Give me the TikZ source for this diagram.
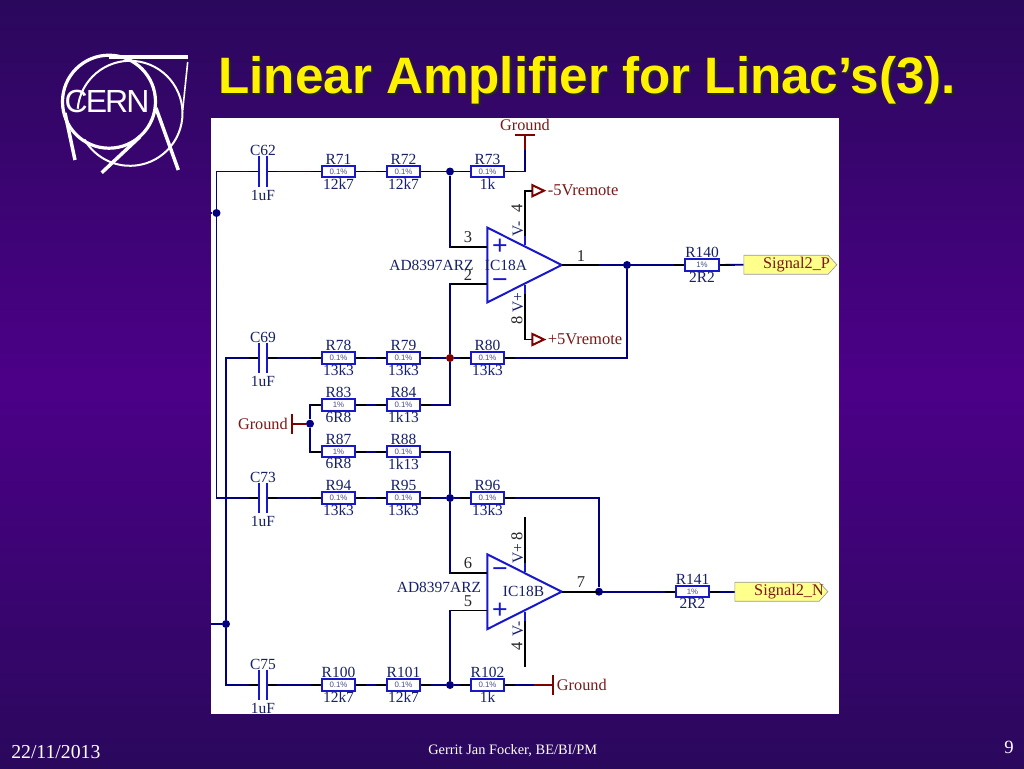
\documentclass[tikz,border=0pt]{standalone}
\usepackage{fontspec}
\setmainfont{Liberation Serif}
\setsansfont{Liberation Sans}
\newfontfamily\cernfont[LetterSpace=-6]{Liberation Sans}
\usetikzlibrary{shapes.geometric,shapes.symbols}
\pgfdeclarelayer{back}
\pgfsetlayers{back,main}
\definecolor{slidedark}{RGB}{42,8,92}
\definecolor{slidemid}{RGB}{76,0,136}
\definecolor{wirenavy}{RGB}{0,0,128}
\definecolor{partblue}{RGB}{24,24,200}
\definecolor{inknavy}{RGB}{22,32,104}
\definecolor{inkred}{RGB}{122,24,24}
\definecolor{gndred}{RGB}{128,0,0}
\definecolor{portyellow}{RGB}{255,255,140}

\begin{document}
\begin{tikzpicture}[x=0.75pt,y=-0.75pt]
\tikzstyle{every node}+=[inner sep=0pt]
\tikzstyle{wire}=[draw=wirenavy,line width=1.4pt]
\tikzstyle{pinline}=[draw=black,line width=1.4pt]
\tikzstyle{plate}=[draw=partblue,line width=1.8pt]
\tikzstyle{gndline}=[draw=gndred,line width=1.4pt]
\tikzstyle{rtext}=[font=\fontsize{11.6}{12}\selectfont,text=inknavy]
\tikzstyle{pintext}=[font=\fontsize{12.4}{12}\selectfont,text=black!85]
\tikzstyle{gndtext}=[font=\fontsize{12.2}{12}\selectfont,text=inkred]
\tikzstyle{porttext}=[font=\fontsize{12.4}{14}\selectfont,text=inkred]
\tikzstyle{icsign}=[font=\fontsize{20}{20}\sffamily\selectfont,text=partblue]
\tikzstyle{res}=[draw=partblue,line width=1.5pt,fill=white,minimum width=25pt,minimum height=8.6pt,
  font=\fontsize{5.9}{6}\sffamily\selectfont,text=inknavy!80,label distance=2.6pt,
  append after command={(\tikzlastnode.west) edge[pinline] ++(-10,0) (\tikzlastnode.east) edge[pinline] ++(10,0)}]
\tikzstyle{capa}=[minimum width=5.7pt,minimum height=23.2pt,outer sep=0pt,label distance=2.5pt,
  append after command={(\tikzlastnode.west) edge[pinline] ++(-10,0) (\tikzlastnode.east) edge[pinline] ++(10,0)
  (\tikzlastnode.north west) edge[plate] (\tikzlastnode.south west)
  (\tikzlastnode.north east) edge[plate] (\tikzlastnode.south east)}]
\tikzstyle{jdot}=[circle,fill=wirenavy,minimum size=6pt]
\tikzstyle{opamp}=[isosceles triangle,isosceles triangle stretches,draw=partblue,line width=1.5pt,outer sep=0pt,
  minimum width=56pt,minimum height=55.7pt,anchor=apex]
\tikzstyle{vport}=[isosceles triangle,isosceles triangle stretches,draw=gndred,line width=1.5pt,outer sep=0pt,
  minimum width=8.4pt,minimum height=8.8pt,anchor=apex]
\tikzstyle{sigport}=[signal,signal to=east,draw=black!40,line width=0.5pt,fill=portyellow,
  minimum width=69.7pt,minimum height=14.3pt,signal pointer angle=95]
\tikzstyle{sigtext}=[font=\fontsize{12.2}{12}\selectfont,text=inkred]

\begin{pgfonlayer}{back}
\shade [top color=slidedark,bottom color=slidedark,middle color=slidemid] (0,0) rectangle (1024,768);
\fill [white] (211,118) rectangle (838.5,714);
\end{pgfonlayer}
\useasboundingbox (0,0) rectangle (1024,768);

\draw [white,line width=2.4pt] (109,101.7) circle (46.5);
\draw [white,line width=1.5pt] (130,113.3) ++(-175:52.5) arc (-175:150:52.5);
\draw [white,line width=2.8pt] (109,56.7) -- (187.7,56.7);
\draw [white,line width=1.2pt] (187.7,62) -- (182.7,110);
\draw [white,line width=2.6pt] (65,113) -- (75,160);
\draw [white,line width=2.6pt] (156,108) -- (178.3,170);
\draw [white,line width=2.6pt] (101.7,172.7) -- (140,136.7);
\node [text=white,font=\fontsize{24}{24}\cernfont] (cern) at (107,101.7) {CERN};

\node [anchor=base west,text=black!85,font=\fontsize{38.4}{38}\bfseries\sffamily\selectfont] (titleback) at (220,95) {Linear Amplifier for Linac’s(3).};
\node [anchor=base west,text=yellow,font=\fontsize{38.4}{38}\bfseries\sffamily\selectfont] (title) at (218,93) {Linear Amplifier for Linac’s(3).};
\node [anchor=west,text=white,font=\fontsize{14.8}{15}\selectfont] (date) at (11,752) {22/11/2013};
\node [anchor=west,text=white,font=\fontsize{10.8}{11}\selectfont] (author) at (428,751) {Gerrit Jan Focker, BE/BI/PM};
\node [text=white,font=\fontsize{14}{14}\selectfont] (page) at (1009,747) {9};

\node [capa,label={[rtext]above:C62},label={[rtext,yshift=-2pt]below:1uF}] (C62) at (263,171.5) {};
\node [capa,label={[rtext]above:C69},label={[rtext,yshift=-2pt]below:1uF}] (C69) at (263,358) {};
\node [capa,label={[rtext]above:C73},label={[rtext,yshift=-2pt]below:1uF}] (C73) at (263,498) {};
\node [capa,label={[rtext]above:C75},label={[rtext,yshift=-2pt]below:1uF}] (C75) at (263,685) {};

\node [res,label={[rtext]above:R71},label={[rtext]below:12k7}] (R71) at (338.5,171.5) {0.1\%};
\node [res,label={[rtext]above:R72},label={[rtext]below:12k7}] (R72) at (403.5,171.5) {0.1\%};
\node [res,label={[rtext]above:R73},label={[rtext]below:1k}] (R73) at (487.5,171.5) {0.1\%};
\node [res,label={[rtext]above:R78},label={[rtext]below:13k3}] (R78) at (338.5,358) {0.1\%};
\node [res,label={[rtext]above:R79},label={[rtext]below:13k3}] (R79) at (403.5,358) {0.1\%};
\node [res,label={[rtext]above:R80},label={[rtext]below:13k3}] (R80) at (487.5,358) {0.1\%};
\node [res,label={[rtext]above:R83},label={[rtext]below:6R8}] (R83) at (338.5,405) {1\%};
\node [res,label={[rtext]above:R84},label={[rtext]below:1k13}] (R84) at (403.5,405) {0.1\%};
\node [res,label={[rtext]above:R87},label={[rtext]below:6R8}] (R87) at (338.5,451.7) {1\%};
\node [res,label={[rtext]above:R88},label={[rtext]below:1k13}] (R88) at (403.5,451.7) {0.1\%};
\node [res,label={[rtext]above:R94},label={[rtext]below:13k3}] (R94) at (338.5,498) {0.1\%};
\node [res,label={[rtext]above:R95},label={[rtext]below:13k3}] (R95) at (403.5,498) {0.1\%};
\node [res,label={[rtext]above:R96},label={[rtext]below:13k3}] (R96) at (487.5,498) {0.1\%};
\node [res,label={[rtext]above:R100},label={[rtext]below:12k7}] (R100) at (338.5,685) {0.1\%};
\node [res,label={[rtext]above:R101},label={[rtext]below:12k7}] (R101) at (403.5,685) {0.1\%};
\node [res,label={[rtext]above:R102},label={[rtext]below:1k}] (R102) at (487.5,685) {0.1\%};
\node [res,label={[rtext]above:R140},label={[rtext]below:2R2}] (R140) at (702,265) {1\%};
\node [res,label={[rtext]above:R141},label={[rtext]below:2R2}] (R141) at (692.5,591.7) {1\%};

\node [jdot] (Jleft) at (216.5,213) {};
\node [jdot] (Jright) at (226,624) {};
\node [jdot] (Jplus) at (450,171.5) {};
\node [jdot,fill=gndred] (Jminus) at (450,358) {};
\node [jdot] (Jgnd) at (310,423.7) {};
\node [jdot] (Jfeed) at (450,498) {};
\node [jdot] (Jlow) at (450,685) {};
\node [jdot] (Jouta) at (627,265) {};
\node [jdot] (Joutb) at (599,591.7) {};

\node [opamp] (ICA) at (561.7,265) {};
\node [opamp] (ICB) at (561.7,591.7) {};
\node [icsign] (ICAp) at (500,247) {+};
\node [icsign] (ICAm) at (500,283.5) {−};
\node [icsign] (ICBm) at (500,573) {−};
\node [icsign] (ICBp) at (500,610.7) {+};

\coordinate (stubl) at (211,213);
\coordinate (stubr) at (211,624);
\coordinate (A3) at (487,246.7);
\coordinate (A2) at (487,284);
\coordinate (B6) at (487,572.7);
\coordinate (B5) at (487,610.5);
\coordinate (Gtop) at (525,135);
\coordinate (Gleft) at (291.7,423.7);
\coordinate (Gbot) at (552.7,685);

\node [sigport] (S2P) at (786,264.7) {};
\node [sigport] (S2N) at (777,591.7) {};
\node [sigtext] (S2Ptext) at (796.5,264.7) {Signal2\_P};
\node [sigtext] (S2Ntext) at (789,591.7) {Signal2\_N};

\node [gndtext] (Gtoptext) at (525,125) {Ground};
\node [gndtext,anchor=east] (Glefttext) at (288,424) {Ground};
\node [gndtext,anchor=west] (Gbottext) at (556.7,685) {Ground};

\node [vport] (Vneg) at (544,190.7) {};
\node [vport] (Vpos) at (544,339.5) {};
\node [porttext,anchor=west] (Vnegtext) at (547.5,190.7) {-5Vremote};
\node [porttext,anchor=west] (Vpostext) at (547.5,339.5) {+5Vremote};

\node [rtext] (ICApart) at (431.5,265) {AD8397ARZ};
\node [rtext] (ICAname) at (506,265) {IC18A};
\node [rtext] (ICBpart) at (439,587) {AD8397ARZ};
\node [rtext] (ICBname) at (523.5,591.7) {IC18B};

\node [pintext] (p3) at (468,236.7) {3};
\node [pintext] (p2) at (468,275) {2};
\node [pintext] (p1) at (581,256) {1};
\node [pintext,rotate=90] (p4a) at (517,208) {4};
\node [pintext,rotate=90] (p8a) at (517,320) {8};
\node [rtext,rotate=90] (vma) at (518,229) {V-};
\node [rtext,rotate=90] (vpa) at (518,302.7) {V+};
\node [pintext] (p6) at (468,563) {6};
\node [pintext] (p5) at (468,600.7) {5};
\node [pintext] (p7) at (581,581.7) {7};
\node [pintext,rotate=90] (p8b) at (517,536) {8};
\node [pintext,rotate=90] (p4b) at (517,646.7) {4};
\node [rtext,rotate=90] (vpb) at (518,554) {V+};
\node [rtext,rotate=90] (vmb) at (518,629) {V-};

\begin{pgfonlayer}{back}
\draw [wire] (C62.west) -| (Jleft);
\draw [wire] (Jleft) |- (C73.west);
\draw [wire] (stubl) -- (Jleft);
\draw [wire] (C69.west) -| (Jright);
\draw [wire] (Jright) |- (C75.west);
\draw [wire] (stubr) -- (Jright);
\draw [wire] (C62.east) -- (R71.west);
\draw [wire] (R71.east) -- (R72.west);
\draw [wire] (R72.east) -- (Jplus);
\draw [wire] (Jplus) -- (R73.west);
\draw [wire] (R73.east) -| (Gtop);
\draw [wire] (Jplus) |- (A3);
\draw [wire] (Jminus) |- (A2);
\draw [wire] (C69.east) -- (R78.west);
\draw [wire] (R78.east) -- (R79.west);
\draw [wire] (R79.east) -- (Jminus);
\draw [wire] (Jminus) -- (R80.west);
\draw [wire] (R80.east) -| (Jouta);
\draw [wire] (Jminus) |- (R84.east);
\draw [wire] (R83.east) -- (R84.west);
\draw [wire] (Jgnd) |- (R83.west);
\draw [wire] (Jgnd) |- (R87.west);
\draw [wire] (R87.east) -- (R88.west);
\draw [wire] (R88.east) -| (Jfeed);
\draw [wire] (C73.east) -- (R94.west);
\draw [wire] (R94.east) -- (R95.west);
\draw [wire] (R95.east) -- (Jfeed);
\draw [wire] (Jfeed) -- (R96.west);
\draw [wire] (R96.east) -| (Joutb);
\draw [wire] (Jfeed) |- (B6);
\draw [wire] (Jlow) |- (B5);
\draw [wire] (C75.east) -- (R100.west);
\draw [wire] (R100.east) -- (R101.west);
\draw [wire] (R101.east) -- (Jlow);
\draw [wire] (Jlow) -- (R102.west);
\draw [wire] (R102.east) -- (Gbot);
\draw [wire] (ICA.apex) -- (R140.west);
\draw [wire] (R140.east) -- (S2P.west);
\draw [wire] (ICB.apex) -- (R141.west);
\draw [wire] (R141.east) -- (S2N.west);
\end{pgfonlayer}

\draw [pinline] (A3) -- ++(-36,0);
\draw [pinline] (A2) -- ++(-36,0);
\draw [pinline] (B6) -- ++(-36,0);
\draw [pinline] (B5) -- ++(-36,0);
\draw [pinline] (ICA.apex) -- ++(37,0);
\draw [pinline] (ICB.apex) -- ++(37,0);
\draw [pinline] (525,245) -- (525,190.7) -- (Vneg.west);
\draw [pinline] (525,285) -- (525,339.5) -- (Vpos.west);
\draw [pinline] (525,572) -- (525,516.7);
\draw [pinline] (525,612) -- (525,666.7);
\draw [plate] (525,245) -- (525,236);
\draw [plate] (525,285) -- (525,294);
\draw [plate] (525,572) -- (525,563);
\draw [plate] (525,612) -- (525,621);

\draw [gndline] (Gtop) -- ++(0,15);
\draw [gndline] (Gtop) ++(-10,0) -- ++(20,0);
\draw [gndline] (Gleft) -- (Jgnd);
\draw [gndline] (Gleft) ++(0,-10) -- ++(0,20);
\draw [gndline] (Gbot) -- ++(-19,0);
\draw [gndline] (Gbot) ++(0,-10) -- ++(0,20);
\end{tikzpicture}
\end{document}
